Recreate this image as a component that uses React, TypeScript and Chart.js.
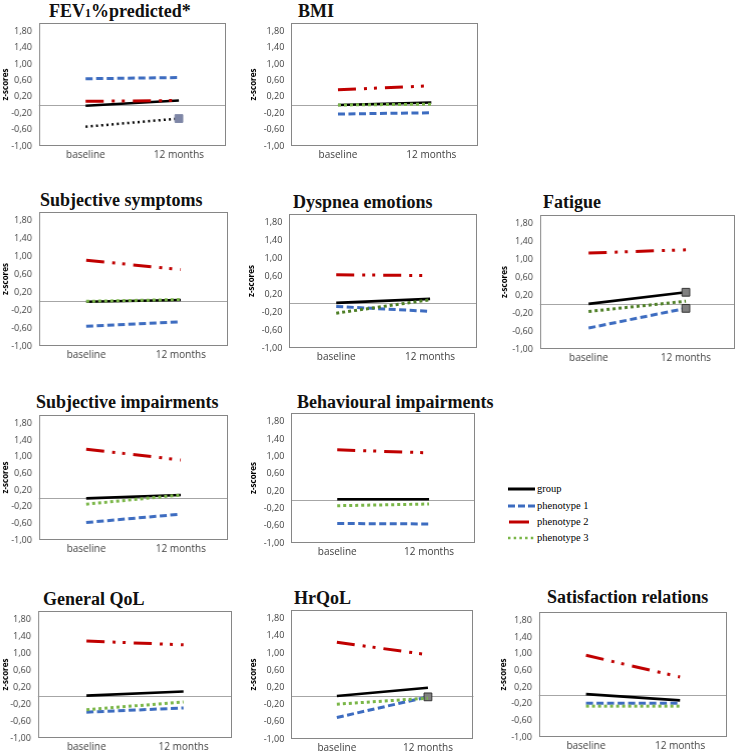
import React, { useEffect, useRef } from 'react';
import { Chart, registerables } from 'chart.js';

Chart.register(...registerables);

// ---------- data ----------
const categories = ['baseline', '12 months'];
const seriesNames = ['group', 'phenotype 1', 'phenotype 2', 'phenotype 3'];
const yTickValues = [-1, -0.6, -0.2, 0.2, 0.6, 1.0, 1.4, 1.8];
const yMin = -1;
const yMax = 2;

// values: [baseline, 12 months]
const fev1Group = [-0.02, 0.11];
const fev1Ph1 = [0.64, 0.67];
const fev1Ph2 = [0.09, 0.11];
const fev1Ph3 = [-0.53, -0.33];

const bmiGroup = [0.0, 0.06];
const bmiPh1 = [-0.22, -0.19];
const bmiPh2 = [0.37, 0.47];
const bmiPh3 = [0.0, 0.02];

const symGroup = [-0.01, 0.03];
const symPh1 = [-0.56, -0.46];
const symPh2 = [0.92, 0.71];
const symPh3 = [0.0, 0.04];

const dysGroup = [0.01, 0.1];
const dysPh1 = [-0.07, -0.18];
const dysPh2 = [0.64, 0.62];
const dysPh3 = [-0.22, 0.08];

const fatGroup = [0.01, 0.27];
const fatPh1 = [-0.53, -0.09];
const fatPh2 = [1.15, 1.22];
const fatPh3 = [-0.16, 0.07];

const impGroup = [0.0, 0.08];
const impPh1 = [-0.58, -0.38];
const impPh2 = [1.18, 0.92];
const impPh3 = [-0.14, 0.08];

const behGroup = [0.01, 0.01];
const behPh1 = [-0.55, -0.56];
const behPh2 = [1.15, 1.08];
const behPh3 = [-0.14, -0.1];

const qolGroup = [0.0, 0.1];
const qolPh1 = [-0.39, -0.29];
const qolPh2 = [1.29, 1.2];
const qolPh3 = [-0.33, -0.15];

const hrqGroup = [0.0, 0.19];
const hrqPh1 = [-0.5, -0.02];
const hrqPh2 = [1.25, 0.96];
const hrqPh3 = [-0.19, -0.05];

const satGroup = [0.03, -0.12];
const satPh1 = [-0.19, -0.19];
const satPh2 = [0.96, 0.44];
const satPh3 = [-0.26, -0.26];

// series with a marked (significant) change at 12 months, per panel
const fev1Marked = [3];
const fatMarked = [0, 1];
const hrqMarked = [1];

// ---------- styles ----------
const TICK_FONT = "'Open Sans', 'DejaVu Sans', sans-serif";
const SERIF = "'Liberation Serif', 'Times New Roman', serif";
const GREEN = '#7AB648';
const DARK_GREEN = '#4E7F26';

const seriesStyles = [
  { color: '#000000', width: 2.6, dash: [] as number[] },
  { color: '#3D6CC0', width: 3, dash: [7, 3.5] },
  { color: '#C00000', width: 3, dash: [18, 8, 3, 7, 3, 8] },
  { color: GREEN, width: 3, dash: [3, 3] },
];

type PanelDef = {
  key: string;
  title: React.ReactNode;
  frame: [number, number, number, number];
  titlePos: [number, number];
  zx: number;
  series: number[][];
  marks: number[];
  ph3?: { color: string; width: number; dash: number[] };
  markFill?: string;
  markBorder?: string;
};

const panels: PanelDef[] = [
  {
    key: 'fev1',
    title: (
      <>
        FEV<span style={{ fontSize: 12 }}>1</span>%predicted*
      </>
    ),
    frame: [39, 23, 228, 146],
    titlePos: [49, 11],
    zx: 33,
    series: [fev1Group, fev1Ph1, fev1Ph2, fev1Ph3],
    marks: fev1Marked,
    ph3: { color: '#000000', width: 2.5, dash: [2, 3.2] },
    markFill: '#7E86A6',
    markBorder: '#7E86A6',
  },
  {
    key: 'bmi',
    title: 'BMI',
    frame: [291, 23, 478, 146],
    titlePos: [298, 11],
    zx: 37.5,
    series: [bmiGroup, bmiPh1, bmiPh2, bmiPh3],
    marks: [],
  },
  {
    key: 'sym',
    title: 'Subjective symptoms',
    frame: [39, 212, 228, 346],
    titlePos: [40, 200],
    zx: 33,
    series: [symGroup, symPh1, symPh2, symPh3],
    marks: [],
  },
  {
    key: 'dys',
    title: 'Dyspnea emotions',
    frame: [289, 214, 477, 348],
    titlePos: [293, 202],
    zx: 37.5,
    series: [dysGroup, dysPh1, dysPh2, dysPh3],
    marks: [],
    ph3: { color: DARK_GREEN, width: 3, dash: [3, 3] },
  },
  {
    key: 'fat',
    title: 'Fatigue',
    frame: [540, 215, 737, 349],
    titlePos: [543, 202],
    zx: 35,
    series: [fatGroup, fatPh1, fatPh2, fatPh3],
    marks: fatMarked,
    ph3: { color: DARK_GREEN, width: 3, dash: [3, 3] },
    markFill: '#808080',
    markBorder: '#333333',
  },
  {
    key: 'imp',
    title: 'Subjective impairments',
    frame: [39, 415, 228, 540],
    titlePos: [36, 402],
    zx: 33,
    series: [impGroup, impPh1, impPh2, impPh3],
    marks: [],
  },
  {
    key: 'beh',
    title: 'Behavioural impairments',
    frame: [291, 413, 475, 543],
    titlePos: [297, 402],
    zx: 37.5,
    series: [behGroup, behPh1, behPh2, behPh3],
    marks: [],
  },
  {
    key: 'qol',
    title: 'General QoL',
    frame: [38, 611, 232, 738],
    titlePos: [43, 599],
    zx: 32,
    series: [qolGroup, qolPh1, qolPh2, qolPh3],
    marks: [],
  },
  {
    key: 'hrq',
    title: 'HrQoL',
    frame: [291, 610, 476, 739],
    titlePos: [294, 598],
    zx: 37.5,
    series: [hrqGroup, hrqPh1, hrqPh2, hrqPh3],
    marks: hrqMarked,
    markFill: '#808080',
    markBorder: '#333333',
  },
  {
    key: 'sat',
    title: 'Satisfaction relations',
    frame: [539, 612, 727, 737],
    titlePos: [547, 597],
    zx: 35,
    series: [satGroup, satPh1, satPh2, satPh3],
    marks: [],
  },
];

const PT = 14; // layout padding top
const PR = 4; // layout padding right
const XH = 22; // x axis height
const ZTITLE_HALF = 4.8; // half line height of the 8px y title

const framePlugin = {
  id: 'frameAndZero',
  beforeDatasetsDraw(chart: any) {
    const { ctx, chartArea: a, scales } = chart;
    ctx.save();
    const y0 = Math.round(scales.y.getPixelForValue(0)) + 0.5;
    ctx.strokeStyle = '#A6A6A6';
    ctx.lineWidth = 1;
    ctx.beginPath();
    ctx.moveTo(a.left, y0);
    ctx.lineTo(a.right, y0);
    ctx.stroke();
    ctx.strokeStyle = '#868686';
    ctx.strokeRect(
      Math.round(a.left) + 0.5,
      Math.round(a.top) + 0.5,
      Math.round(a.right - a.left) - 1,
      Math.round(a.bottom - a.top) - 1
    );
    ctx.restore();
  },
};

function PanelChart({ p }: { p: PanelDef }) {
  const ref = useRef<HTMLCanvasElement>(null);
  const [l, t, r, b] = p.frame;
  const AX = p.zx + ZTITLE_HALF;
  const w = r - l + AX + PR;
  const h = b - t + PT + XH;

  useEffect(() => {
    const datasets = seriesNames.map((name, i) => {
      const st = i === 3 && p.ph3 ? p.ph3 : seriesStyles[i];
      const marked = p.marks.includes(i);
      return {
        label: name,
        data: p.series[i],
        borderColor: st.color,
        backgroundColor: st.color,
        borderWidth: st.width,
        borderDash: st.dash,
        borderCapStyle: 'butt' as const,
        pointRadius: marked ? [0, 5.5] : 0,
        pointHoverRadius: 0,
        pointStyle: 'rect' as const,
        pointBackgroundColor: p.markFill || '#808080',
        pointBorderColor: p.markBorder || '#333333',
        pointBorderWidth: 1,
        order: 4 - i,
        tension: 0,
        fill: false,
      };
    });
    const chart = new Chart(ref.current as HTMLCanvasElement, {
      type: 'line',
      data: { labels: categories, datasets },
      options: {
        animation: false,
        responsive: false,
        maintainAspectRatio: false,
        devicePixelRatio: 1,
        layout: { padding: { left: 0, top: PT, right: PR, bottom: 0 } },
        plugins: {
          legend: { display: false },
          tooltip: { enabled: false },
          title: { display: false },
        },
        events: [],
        scales: {
          x: {
            type: 'category',
            offset: true,
            grid: { display: false, drawTicks: false },
            border: { display: false },
            ticks: {
              padding: 3,
              color: '#404040',
              font: { family: TICK_FONT, size: 10 },
              maxRotation: 0,
            },
            afterFit: (s: any) => {
              s.height = XH;
            },
          },
          y: {
            type: 'linear',
            min: yMin,
            max: yMax,
            afterBuildTicks: (s: any) => {
              s.ticks = yTickValues.map((v) => ({ value: v }));
            },
            grid: { display: false, drawTicks: false },
            border: { display: false },
            ticks: {
              padding: 7,
              color: '#404040',
              font: { family: TICK_FONT, size: 9 },
              callback: (v: any) => Number(v).toFixed(2).replace('.', ','),
            },
            title: {
              display: true,
              text: 'z-scores',
              color: '#000000',
              font: { family: TICK_FONT, size: 8, weight: 'bold' },
              padding: { top: 0, bottom: 0 },
            },
            afterFit: (s: any) => {
              s.width = AX;
            },
          },
        },
      } as any,
      plugins: [framePlugin],
    });
    return () => chart.destroy();
  }, []);

  return (
    <canvas
      ref={ref}
      width={w}
      height={h}
      style={{ position: 'absolute', left: l - AX, top: t - PT, width: w, height: h }}
    />
  );
}

function Legend() {
  const items = [
    { y: 489, x1: 508, x2: 535, color: '#000000', width: 3, dash: '' },
    { y: 506, x1: 508, x2: 535, color: '#3D6CC0', width: 3, dash: '7 3' },
    { y: 522, x1: 509, x2: 529, color: '#C00000', width: 3, dash: '' },
    { y: 538, x1: 508, x2: 535, color: GREEN, width: 2.5, dash: '2.5 3.2' },
  ];
  return (
    <>
      <svg
        width={50}
        height={70}
        style={{ position: 'absolute', left: 500, top: 480 }}
      >
        {items.map((it, i) => (
          <line
            key={i}
            x1={it.x1 - 500}
            x2={it.x2 - 500}
            y1={it.y - 480}
            y2={it.y - 480}
            stroke={it.color}
            strokeWidth={it.width}
            strokeDasharray={it.dash || undefined}
          />
        ))}
      </svg>
      {items.map((it, i) => (
        <div
          key={i}
          style={{
            position: 'absolute',
            left: 537,
            top: it.y - 7,
            fontFamily: SERIF,
            fontSize: 10.5,
            lineHeight: '13px',
            color: '#000',
            whiteSpace: 'nowrap',
          }}
        >
          {seriesNames[i]}
        </div>
      ))}
    </>
  );
}

export default function App() {
  return (
    <div
      style={{
        position: 'absolute',
        left: 0,
        top: 0,
        width: 739,
        height: 754,
        background: '#ffffff',
        overflow: 'hidden',
      }}
    >
      {panels.map((p) => (
        <React.Fragment key={p.key}>
          <div
            style={{
              position: 'absolute',
              left: p.titlePos[0],
              top: p.titlePos[1] - 10,
              fontFamily: SERIF,
              fontWeight: 'bold',
              fontSize: 18,
              lineHeight: '20px',
              color: '#111',
              whiteSpace: 'nowrap',
            }}
          >
            {p.title}
          </div>
          <PanelChart p={p} />
        </React.Fragment>
      ))}
      <Legend />
    </div>
  );
}
